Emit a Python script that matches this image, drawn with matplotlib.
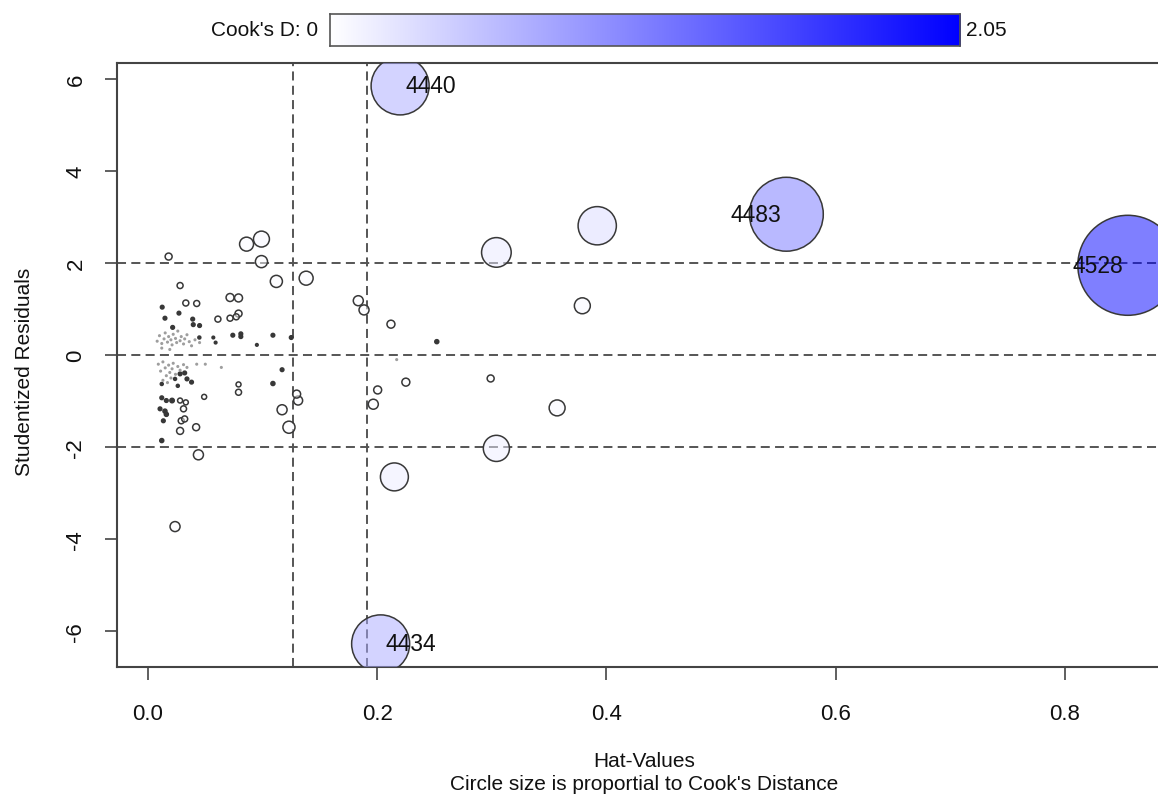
import numpy as np
import matplotlib
matplotlib.use("Agg")
import matplotlib.pyplot as plt
from matplotlib.colors import LinearSegmentedColormap

plt.rcParams["font.family"] = ["Liberation Sans", "DejaVu Sans"]
plt.rcParams["lines.scale_dashes"] = False

# ---- data: hat values, studentized residuals, Cook's distance ----
hat = [
    0.220, 0.203, 0.557, 0.855,
    0.392, 0.304, 0.304, 0.215, 0.379, 0.357,
    0.086, 0.099, 0.099, 0.112, 0.138, 0.1835, 0.1885, 0.212, 0.252,
    0.225, 0.299, 0.2004, 0.1966,
    0.018, 0.028, 0.0716, 0.079, 0.033, 0.0425, 0.079, 0.0716, 0.077, 0.061,
    0.0124, 0.0148, 0.027, 0.039, 0.0395, 0.045, 0.0215,
    0.074, 0.081, 0.081, 0.0448, 0.057, 0.059, 0.109, 0.125, 0.095,
    0.117, 0.028, 0.032, 0.0236, 0.034, 0.012, 0.038, 0.079, 0.079, 0.109, 0.026,
    0.012, 0.016, 0.021, 0.028, 0.033, 0.049, 0.1297, 0.131,
    0.0105, 0.0148, 0.016, 0.031, 0.029, 0.032, 0.0134, 0.028, 0.042,
    0.117, 0.123, 0.012, 0.044, 0.0236, 0.217,
    0.008, 0.010, 0.012, 0.014, 0.015, 0.017, 0.018, 0.020, 0.021, 0.022,
    0.024, 0.025, 0.026, 0.028, 0.029, 0.031, 0.032, 0.034, 0.036, 0.038,
    0.041, 0.045, 0.012, 0.019,
    0.009, 0.011, 0.013, 0.015, 0.016, 0.018, 0.019, 0.021, 0.022, 0.024,
    0.026, 0.028, 0.031, 0.034, 0.0425, 0.050, 0.064, 0.013, 0.017, 0.020,
]
rstudent = [
    5.85, -6.28, 3.06, 1.95,
    2.81, 2.23, -2.03, -2.65, 1.07, -1.15,
    2.41, 2.52, 2.03, 1.60, 1.67, 1.18, 0.98, 0.67, 0.29,
    -0.59, -0.51, -0.76, -1.07,
    2.14, 1.51, 1.25, 1.24, 1.13, 1.12, 0.90, 0.80, 0.83, 0.78,
    1.04, 0.80, 0.91, 0.78, 0.66, 0.64, 0.60,
    0.43, 0.46, 0.40, 0.38, 0.38, 0.27, 0.43, 0.38, 0.22,
    -0.32, -0.41, -0.39, -0.52, -0.52, -0.63, -0.59, -0.64, -0.81, -0.62, -0.67,
    -0.93, -0.99, -0.99, -0.99, -1.03, -0.91, -0.85, -0.99,
    -1.17, -1.22, -1.29, -1.17, -1.43, -1.39, -1.43, -1.65, -1.57,
    -1.19, -1.57, -1.86, -2.17, -3.73, -0.10,
    0.30, 0.42, 0.25, 0.35, 0.48, 0.28, 0.40, 0.33, 0.22, 0.45,
    0.36, 0.27, 0.52, 0.31, 0.40, 0.24, 0.35, 0.44, 0.29, 0.20,
    0.33, 0.27, 0.15, 0.12,
    -0.20, -0.35, -0.15, -0.28, -0.45, -0.22, -0.38, -0.30, -0.18, -0.42,
    -0.25, -0.33, -0.21, -0.27, -0.20, -0.20, -0.27, -0.55, -0.60, -0.50,
]
cookd = [
    0.69, 0.69, 1.12, 2.05,
    0.30, 0.18, 0.14, 0.16, 0.052, 0.052,
    0.040, 0.052, 0.030, 0.030, 0.040, 0.0205, 0.0205, 0.013, 0.0033,
    0.013, 0.010, 0.013, 0.0205,
    0.010, 0.0074, 0.013, 0.013, 0.0074, 0.0074, 0.010, 0.0074, 0.0074, 0.0074,
    0.0027, 0.0027, 0.0027, 0.0027, 0.0027, 0.0027, 0.0027,
    0.0027, 0.0027, 0.0027, 0.0018, 0.0014, 0.0014, 0.0027, 0.0027, 0.0014,
    0.0027, 0.0027, 0.0027, 0.0018, 0.0027, 0.0018, 0.0027, 0.0051, 0.0074, 0.0033, 0.0018,
    0.0027, 0.0027, 0.0040, 0.0051, 0.0051, 0.0051, 0.013, 0.0166,
    0.0027, 0.0033, 0.0033, 0.0074, 0.0074, 0.0074, 0.0027, 0.010, 0.010,
    0.0205, 0.030, 0.0033, 0.0205, 0.0205, 0.0005,
    0.0005, 0.0005, 0.0005, 0.0005, 0.0005, 0.0005, 0.0005, 0.0005, 0.0005, 0.0005,
    0.0005, 0.0005, 0.0005, 0.0005, 0.0005, 0.0005, 0.0005, 0.0005, 0.0005, 0.0005,
    0.0005, 0.0005, 0.0005, 0.0005,
    0.0005, 0.0005, 0.0005, 0.0005, 0.0005, 0.0005, 0.0005, 0.0005, 0.0005, 0.0005,
    0.0005, 0.0005, 0.0005, 0.0005, 0.0005, 0.0005, 0.0005, 0.0005, 0.0005, 0.0005,
]
# labelled observations: (index into the arrays, id, side)
labelled = [(0, "4440", "right"), (1, "4434", "right"),
            (2, "4483", "left"), (3, "4528", "left")]

hat_cutoffs = [0.1265, 0.191]
resid_cutoffs = [-2, 0, 2]
cook_max = 2.05

x_ticks = [0.0, 0.2, 0.4, 0.6, 0.8]
y_ticks = [-6, -4, -2, 0, 2, 4, 6]

# ---- figure ----
W, H, DPI = 1158, 803, 100
fig = plt.figure(figsize=(W / DPI, H / DPI), dpi=DPI)
fig.patch.set_facecolor("white")

# plot region in pixels
left_px, right_px, top_px, bot_px = 117, 1172, 64, 668
ax = fig.add_axes([left_px / W, 1 - bot_px / H,
                   (right_px - left_px) / W, (bot_px - top_px) / H])

# data limits from the pixel mapping (x: 0 at 148 px, 1146 px/unit; y: 0 at 356 px, 46 px/unit)
x0, xs, y0, ys = 148.0, 1146.0, 356.0, 46.0
ax.set_xlim((left_px - x0) / xs, (right_px - x0) / xs)
ax.set_ylim((y0 - bot_px) / ys, (y0 - top_px) / ys)

cmap = LinearSegmentedColormap.from_list("cook", ["#ffffff", "#0000ff"])

hat_a = np.array(hat)
res_a = np.array(rstudent)
cook_a = np.array(cookd)
frac = cook_a / cook_max

# circle radius (px) proportional to sqrt(Cook's D)
radius_px = 50.0 * np.sqrt(frac)
diam_pt = 2 * radius_px * 72.0 / DPI
sizes = diam_pt ** 2

faces = cmap(frac)
faces[:, 3] = 0.5
dark = np.array([0.22, 0.22, 0.22, 1.0])
light = np.array([0.62, 0.62, 0.62, 1.0])
edges = np.tile(dark, (len(frac), 1))
edges[radius_px < 1.0] = light
# the tiniest circles close up into solid dots
faces[(radius_px < 2.4) & (radius_px >= 1.0)] = dark
faces[radius_px < 1.0] = light

order = np.argsort(-cook_a)
ax.scatter(hat_a[order], res_a[order], s=sizes[order], facecolors=faces[order],
           edgecolors=edges[order], linewidths=1.1, zorder=3)

dash = (0, (6.5, 3.8))
for yv in resid_cutoffs:
    ax.axhline(yv, color="#555555", lw=1.4, linestyle=dash, zorder=2)
for xv in hat_cutoffs:
    ax.axvline(xv, color="#555555", lw=1.4, linestyle=dash, zorder=2)

for idx, name, side in labelled:
    off = 5 if side == "right" else -5
    ax.annotate(name, (hat[idx], rstudent[idx]), xytext=(off * 72 / DPI, 0),
                textcoords="offset points", ha="left" if side == "right" else "right",
                va="center", fontsize=16.5, color="#111111", zorder=5)

ax.set_xticks(x_ticks)
ax.set_xticklabels([f"{v:.1f}" for v in x_ticks])
ax.set_yticks(y_ticks)
ax.set_yticklabels([str(v) for v in y_ticks], rotation=90, va="center")
ax.tick_params(axis="both", direction="out", length=9, width=1.2,
               color="#444444", labelsize=16, labelcolor="#111111")
ax.tick_params(axis="x", pad=17)
ax.tick_params(axis="y", pad=13)
for side in ("left", "bottom", "top"):
    ax.spines[side].set_color("#444444")
    ax.spines[side].set_linewidth(1.5)
ax.spines["right"].set_visible(False)

fig.text(644 / W, 1 - 762 / H, "Hat-Values", ha="center", va="center",
         fontsize=15, color="#111111")
fig.text(644 / W, 1 - 785 / H, "Circle size is proportial to Cook's Distance",
         ha="center", va="center", fontsize=15, color="#111111")
fig.text(25 / W, 1 - 372 / H, "Studentized Residuals", ha="center", va="center",
         rotation=90, fontsize=15, color="#111111")

# colour key for Cook's D along the top
cax = fig.add_axes([330 / W, 1 - 47 / H, 630 / W, 32 / H])
grad = np.linspace(0, 1, 256)[None, :]
cax.imshow(grad, aspect="auto", cmap=cmap, extent=[0, cook_max, 0, 1])
cax.set_xticks([])
cax.set_yticks([])
for s in cax.spines.values():
    s.set_color("#555555")
    s.set_linewidth(1.2)
fig.text(318 / W, 1 - 31 / H, "Cook's D: 0", ha="right", va="center",
         fontsize=15, color="#111111")
fig.text(966 / W, 1 - 31 / H, f"{cook_max:.2f}", ha="left", va="center",
         fontsize=15, color="#111111")

fig.savefig("out.png", dpi=DPI)
